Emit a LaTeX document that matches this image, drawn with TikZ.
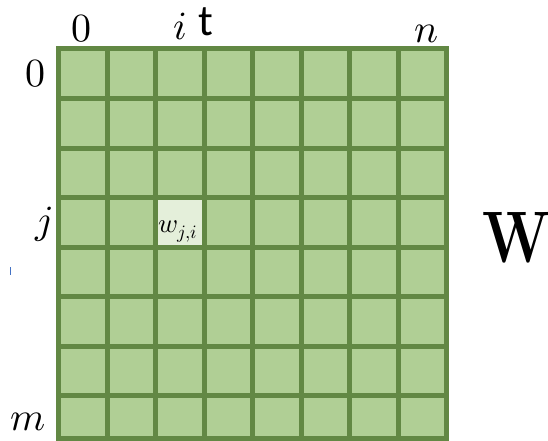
\documentclass[tikz,border=0pt]{standalone}
\usepackage{fontspec}
\usepackage{unicode-math}
\setmathfont{Latin Modern Math}
\newfontfamily\calibrifont{Carlito}
\definecolor{cellfill}{HTML}{B0CF95}
\definecolor{gridline}{HTML}{628844}
\definecolor{cellhi}{HTML}{E4EFDA}
\definecolor{markblue}{HTML}{4472C4}
\begin{document}
\begin{tikzpicture}[x=1pt,y=-1pt,
  lbl/.style={inner sep=0pt,anchor=base,font=\fontsize{40}{48}\selectfont},
  bigw/.style={inner sep=0pt,anchor=base west,font=\fontsize{73}{80}\selectfont\bfseries},
  gridstroke/.style={draw=gridline,line width=5pt},
  celltext/.style={inner sep=0pt,anchor=base,font=\fontsize{27}{30}\selectfont}]
\useasboundingbox (0,0) rectangle (548,441);
% grid coordinates
\def\xa{58.5}\def\xb{446.5}
\def\ya{49}\def\yb{438}
\fill[cellfill] (\xa,\ya) rectangle (\xb,\yb);
\fill[cellhi] (155.5,197.5) rectangle (204,247);
\foreach \k in {0,...,8}{
  \draw[gridstroke] ({58.5+48.5*\k},{\ya-2.5}) -- ({58.5+48.5*\k},{\yb+2.5});
}
\foreach \k in {0,...,7}{
  \draw[gridstroke] ({\xa-2.5},{49+49.5*\k}) -- ({\xb+2.5},{49+49.5*\k});
}
\draw[gridstroke] ({\xa-2.5},\yb) -- ({\xb+2.5},\yb);
% labels
\node[lbl] (c0) at (81,42) {$0$};
\node[lbl] (ci) at (180,40) {$i$};
\node[lbl,font=\fontsize{44}{50}\selectfont\calibrifont] (ct) at (206,36) {t};
\node[lbl] (cn) at (426,43) {$n$};
\node[lbl] (r0) at (35,87) {$0$};
\node[lbl] (rj) at (44,233) {$j$};
\node[lbl] (rm) at (28,430) {$m$};
\node[celltext] (wji) at (178,232) {$w_{j,i}$};
\node[bigw] (W) at (482,262) {\scalebox{0.8}[1]{W}};
\coordinate (mA) at (10.5,267);
\coordinate (mB) at (10.5,275);
\draw[markblue,line width=1.2pt] (mA) -- (mB);
\end{tikzpicture}
\end{document}
